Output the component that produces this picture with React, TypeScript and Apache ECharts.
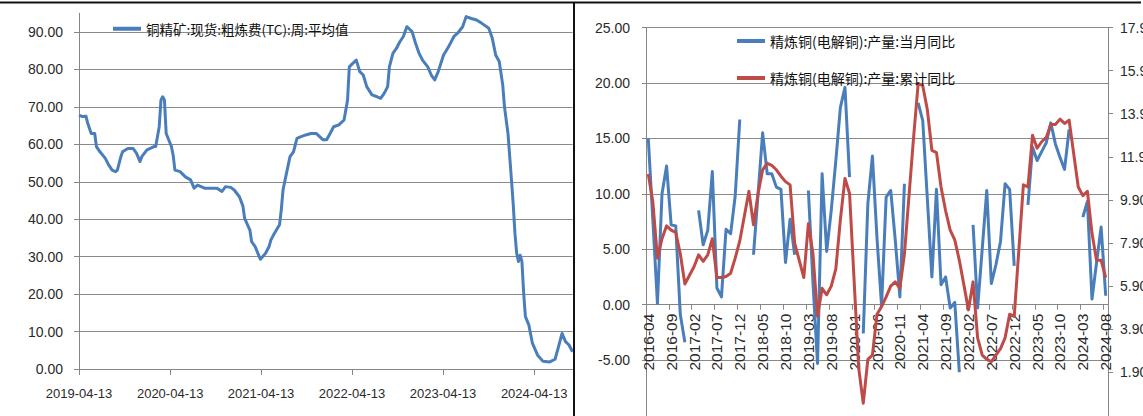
import React, { useEffect, useRef } from "react";
import * as echarts from "echarts";

// ---------- Left chart: copper concentrate spot TC, weekly average ----------
const tcLegendName = "铜精矿:现货:粗炼费(TC):周:平均值";
const tcStartDate = "2019-04-13";
// observation position in weeks since the first observation
const tcWeeks = [
  0, 2, 4, 5, 7, 9, 10, 12, 15, 17, 19, 21, 22, 24, 25, 28, 31, 33, 35, 36, 39, 43, 44, 46, 47, 48, 49, 50,
  53, 54, 55, 58, 61, 64, 66, 68, 72, 79, 82, 84, 87, 89, 92, 94, 95, 98, 99, 101, 103, 104, 107, 109, 110,
  112, 115, 116, 117, 119, 121, 123, 125, 127, 130, 133, 136, 140, 142, 144, 146, 149, 152, 154, 155, 157,
  159, 161, 163, 165, 168, 171, 173, 175, 177, 178, 180, 182, 184, 186, 188, 189, 191, 193, 195, 197, 200,
  202, 204, 206, 209, 212, 215, 217, 220, 222, 225, 228, 231, 235, 237, 239, 241, 243, 244, 246, 248, 249,
  250, 251, 252, 253, 254, 255, 256, 258, 260, 263, 266, 270, 273, 275, 277, 279, 281, 283,
];
const tcValues = [
  67.8, 67.4, 67.5, 65.6, 62.9, 62.9, 59.4, 58.0, 56.3, 54.5, 53.1, 52.7, 53.1, 56.7, 58.0, 58.9, 58.9, 57.6,
  55.4, 56.7, 58.5, 59.4, 59.4, 64.7, 71.8, 72.7, 71.8, 62.9, 59.4, 57.1, 53.1, 52.7, 51.3, 50.5, 48.3, 49.1,
  48.3, 48.3, 47.4, 48.7, 48.5, 47.8, 46.0, 43.5, 40.2, 37.1, 34.0, 32.7, 30.4, 29.3, 30.9, 32.7, 34.4, 36.2,
  38.5, 42.5, 47.8, 52.3, 56.7, 58.0, 61.6, 62.0, 62.5, 62.9, 62.9, 61.2, 61.2, 62.9, 64.7, 65.2, 66.5, 71.8,
  80.7, 81.6, 82.5, 79.4, 78.5, 75.4, 73.2, 72.7, 72.3, 73.6, 75.4, 80.7, 84.3, 85.6, 87.4, 88.8, 91.4, 91.0,
  90.1, 87.0, 84.3, 82.5, 80.7, 78.5, 77.2, 79.4, 83.8, 86.1, 88.8, 89.6, 91.4, 94.1, 93.6, 93.2, 92.3, 91.0,
  88.3, 83.8, 82.1, 75.8, 70.0, 62.9, 50.5, 44.0, 36.2, 30.9, 28.7, 30.4, 28.7, 20.2, 14.0, 11.7, 6.9, 3.7,
  2.1, 1.9, 2.6, 6.0, 9.5, 7.3, 6.4, 4.6,
];
const tcTickLabels = ["2019-04-13", "2020-04-13", "2021-04-13", "2022-04-13", "2023-04-13", "2024-04-13"];

// ---------- Right chart: refined copper output YoY (monthly / cumulative) ----------
const prodFirstYear = 2016;
const prodFirstMonth = 4;
const monthlyName = "精炼铜(电解铜):产量:当月同比";
const cumulativeName = "精炼铜(电解铜):产量:累计同比";
const monthlyYoY: (number | null)[] = [
  15.0, 7.6, 0.1, 10.0, 12.5, 7.2, 7.1, -0.9, -3.4,
  null, null, 8.5, 5.4, 6.7, 12.0, 1.5, 0.7, 6.8, 6.4, 9.8, 16.7,
  null, null, 4.5, 10.0, 15.5, 11.8, 11.8, 10.6, 10.4, 3.8, 7.7, 4.5,
  null, null, 10.3, 2.0, -5.3, 11.8, 4.8, 8.5, 13.0, 17.8, 19.6, 11.5,
  null, null, -2.6, 9.1, 13.4, 6.0, -0.1, 9.7, 10.3, 5.8, 0.7, 10.9,
  null, null, 18.2, 16.6, 9.6, 2.5, 10.4, 1.8, 2.5, -0.3, 0.2, -6.1,
  null, null, 7.2, -0.3, 5.0, 10.3, 1.9, 3.6, 5.7, 10.9, 10.4, 3.5,
  null, null, 9.0, 14.2, 13.0, 13.8, 14.6, 16.4, 14.5, 13.3, 12.2, 15.8,
  null, null, 7.9, 9.3, 0.5, 3.8, 7.0, 0.8,
];
const cumulativeYoY: (number | null)[] = [
  11.1, 9.8, 7.2, 8.1, 8.7, 8.5, 8.4, 7.4, 6.0,
  null, 6.8, 7.35, 7.05, 7.35, 8.1, 6.3, 6.3, 6.35, 6.5, 7.2, 8.0,
  null, 10.3, 8.75, 10.2, 11.3, 11.6, 11.5, 11.3, 11.0, 10.75, 10.6, 7.9,
  null, 6.3, 8.8, 7.4, 4.5, 5.8, 5.5, 5.9, 6.7, 9.0, 10.9, 10.2,
  null, 2.1, 0.47, 2.5, 2.7, 4.6, 4.95, 5.4, 5.9, 6.1, 5.8, 7.4,
  null, 12.8, 15.3, 15.2, 14.1, 12.2, 12.1, 10.5, 9.4, 8.5, 8.05, 7.1,
  null, 4.8, 6.1, 3.5, 2.7, 2.5, 2.4, 2.7, 3.0, 3.5, 4.6, 4.5,
  null, 10.6, 10.5, 12.9, 12.3, 12.6, 12.8, 13.4, 13.4, 13.65, 13.45, 13.6,
  null, 10.5, 10.1, 10.3, 8.35, 7.1, 7.1, 6.3,
];
const leftAxisMin = -10;
const leftAxisMax = 25;

const BLUE = "#4a7ebb";
const RED = "#be4b48";
const GRID_GRAY = "#8a8a8a";
const AXIS_GRAY = "#868686";
const LABEL = "#2a2a2a";
const LATIN = "'Liberation Sans', Arial, 'Noto Sans CJK SC', sans-serif";
const CJK = "'Noto Sans CJK SC', 'Liberation Sans', sans-serif";

export default function App() {
  const ref = useRef<HTMLDivElement>(null);

  useEffect(() => {
    if (!ref.current) return;
    const chart = echarts.init(ref.current, undefined, { renderer: "svg" });

    const DAY = 86400000;
    const startTs = Date.parse(tcStartDate);
    const tcData = tcWeeks.map((w, k) => [startTs + w * 7 * DAY, tcValues[k]]);
    const tcEnd = startTs + tcWeeks[tcWeeks.length - 1] * 7 * DAY;
    const tickTs = tcTickLabels.map((d) => Date.parse(d));

    const months: string[] = [];
    for (let k = 0; k < monthlyYoY.length; k++) {
      const m = prodFirstMonth - 1 + k;
      const y = prodFirstYear + Math.floor(m / 12);
      months.push(`${y}-${String((m % 12) + 1).padStart(2, "0")}`);
    }

    // right grid geometry; the category axis sits on the value 0 of the left axis
    const rTop = 27.5;
    const rHeight = 388;
    const zeroOffset = -(rHeight * (0 - leftAxisMin)) / (leftAxisMax - leftAxisMin);

    const fmt2 = (v: number) => v.toFixed(2);

    chart.setOption({
      animation: false,
      backgroundColor: "#ffffff",
      textStyle: { fontFamily: LATIN },
      grid: [
        { left: 79, top: 13.25, width: 493.5, height: 355.75, outerBoundsMode: "none", containLabel: false },
        { left: 646, top: rTop, width: 462, height: rHeight, outerBoundsMode: "none", containLabel: false },
      ],
      legend: [
        {
          data: [tcLegendName],
          left: 113,
          top: 22,
          padding: 0,
          icon: "rect",
          itemWidth: 28,
          itemHeight: 4,
          selectedMode: false,
          textStyle: { fontSize: 13.5, color: "#111", fontFamily: CJK },
        },
        {
          data: [monthlyName],
          left: 737,
          top: 34,
          padding: 0,
          icon: "rect",
          itemWidth: 28,
          itemHeight: 4,
          selectedMode: false,
          textStyle: { fontSize: 14, color: "#111", fontFamily: CJK },
        },
        {
          data: [cumulativeName],
          left: 737,
          top: 71,
          padding: 0,
          icon: "rect",
          itemWidth: 28,
          itemHeight: 4,
          selectedMode: false,
          textStyle: { fontSize: 14, color: "#111", fontFamily: CJK },
        },
      ],
      xAxis: [
        {
          type: "value",
          gridIndex: 0,
          min: startTs,
          max: tcEnd,
          axisLine: { show: true, lineStyle: { color: AXIS_GRAY, width: 1 } },
          axisTick: { show: true, length: 6, customValues: tickTs, lineStyle: { color: AXIS_GRAY } },
          axisLabel: {
            customValues: tickTs,
            margin: 18,
            fontSize: 13,
            color: LABEL,
            formatter: (v: number) => new Date(v).toISOString().slice(0, 10),
          },
          splitLine: { show: false },
        },
        {
          type: "category",
          gridIndex: 1,
          data: months,
          boundaryGap: true,
          position: "bottom",
          offset: zeroOffset,
          axisLine: { show: true, onZero: false, lineStyle: { color: AXIS_GRAY, width: 1 } },
          axisTick: { show: true, interval: 4, length: 5, alignWithLabel: false, lineStyle: { color: AXIS_GRAY } },
          axisLabel: { interval: 4, rotate: 90, margin: 9, fontSize: 15.5, color: LABEL, hideOverlap: false },
          splitLine: { show: false },
        },
      ],
      yAxis: [
        {
          type: "value",
          gridIndex: 0,
          min: 0,
          max: 95,
          interval: 10,
          axisLine: { show: true, lineStyle: { color: AXIS_GRAY, width: 1 } },
          axisTick: { show: true, length: 5, lineStyle: { color: AXIS_GRAY } },
          axisLabel: { margin: 16, fontSize: 14, color: LABEL, showMaxLabel: false, formatter: fmt2 },
          splitLine: { show: true, showMaxLine: false, lineStyle: { color: GRID_GRAY, width: 1 } },
        },
        {
          type: "value",
          gridIndex: 1,
          position: "left",
          min: leftAxisMin,
          max: leftAxisMax,
          interval: 5,
          axisLine: { show: true, onZero: false, lineStyle: { color: AXIS_GRAY, width: 1 } },
          axisTick: { show: true, length: 4, lineStyle: { color: AXIS_GRAY } },
          axisLabel: { margin: 16, fontSize: 14, color: LABEL, showMinLabel: false, formatter: fmt2 },
          splitLine: { show: true, showMinLine: false, lineStyle: { color: GRID_GRAY, width: 1 } },
        },
        {
          type: "value",
          gridIndex: 1,
          position: "right",
          min: -0.1,
          max: 17.9,
          interval: 2,
          axisLine: { show: true, onZero: false, lineStyle: { color: AXIS_GRAY, width: 1 } },
          axisTick: { show: true, length: 5, lineStyle: { color: AXIS_GRAY } },
          axisLabel: { margin: 12, fontSize: 14, color: LABEL, showMinLabel: false, formatter: fmt2 },
          splitLine: { show: false },
        },
      ],
      series: [
        {
          name: tcLegendName,
          type: "line",
          xAxisIndex: 0,
          yAxisIndex: 0,
          data: tcData,
          symbol: "none",
          showSymbol: false,
          color: BLUE,
          lineStyle: { width: 3, color: BLUE, join: "round" },
        },
        {
          name: monthlyName,
          type: "line",
          xAxisIndex: 1,
          yAxisIndex: 1,
          data: monthlyYoY,
          connectNulls: false,
          symbol: "none",
          showSymbol: false,
          color: BLUE,
          lineStyle: { width: 3, color: BLUE, join: "round" },
        },
        {
          name: cumulativeName,
          type: "line",
          xAxisIndex: 1,
          yAxisIndex: 2,
          data: cumulativeYoY,
          connectNulls: true,
          symbol: "none",
          showSymbol: false,
          color: RED,
          lineStyle: { width: 3, color: RED, join: "round" },
        },
      ],
      graphic: [
        { type: "line", shape: { x1: 0, y1: 2.5, x2: 1141, y2: 2.5 }, style: { stroke: "#111", lineWidth: 2 }, z: 100 },
        { type: "line", shape: { x1: 574, y1: 2, x2: 574, y2: 416 }, style: { stroke: "#111", lineWidth: 2 }, z: 100 },
      ],
    });

    return () => chart.dispose();
  }, []);

  return (
    <div
      ref={ref}
      style={{ position: "fixed", left: 0, top: 0, width: 1143, height: 416, background: "#ffffff" }}
    />
  );
}
